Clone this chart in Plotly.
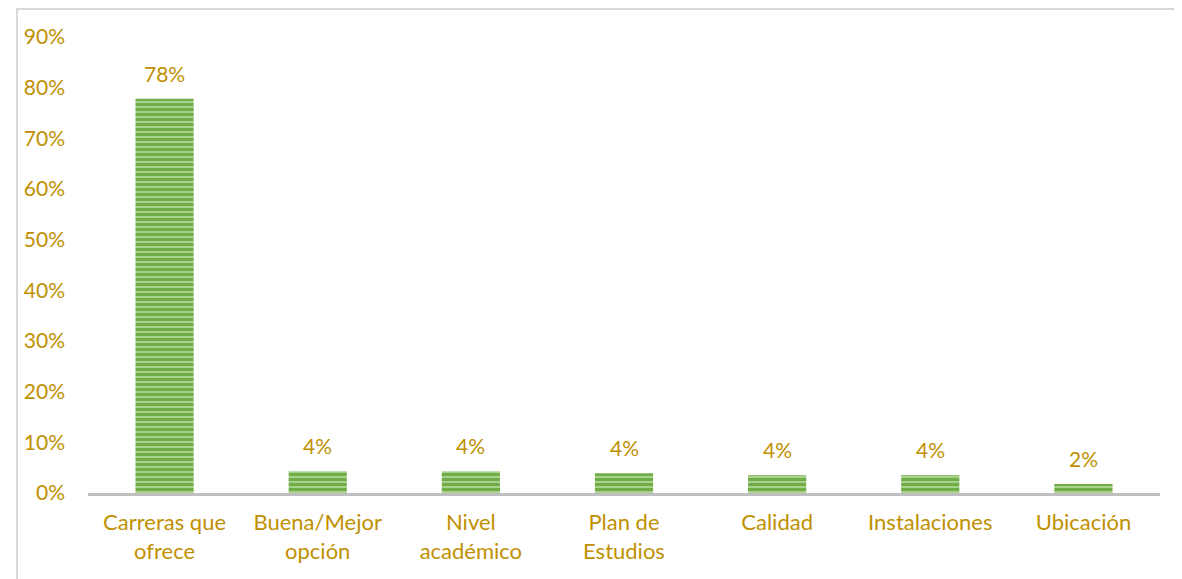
import plotly.graph_objects as go

categories = ["Carreras que<br>ofrece", "Buena/Mejor<br>opción", "Nivel<br>académico",
              "Plan de<br>Estudios", "Calidad", "Instalaciones", "Ubicación"]
values = [77.8, 4.3, 4.3, 3.9, 3.5, 3.5, 1.8]
labels = ["78%", "4%", "4%", "4%", "4%", "4%", "2%"]
y_ticks = [0, 10, 20, 30, 40, 50, 60, 70, 80, 90]

GOLD = "#BF9000"
GREEN = "#70AD47"
FONT = "Lato, Open Sans, sans-serif"

fig = go.Figure(
    go.Bar(
        x=categories,
        y=values,
        width=0.38,
        marker=dict(
            color=GREEN,
            line=dict(width=0),
            pattern=dict(shape="-", fgcolor=GREEN, bgcolor="#A9D18E",
                         size=5, solidity=0.6, fillmode="replace"),
        ),
    )
)

# data labels above bars
for cat, val, lab in zip(categories, values, labels):
    fig.add_annotation(x=cat, y=val, text=lab, showarrow=False,
                       yanchor="bottom", yshift=11,
                       font=dict(size=21, color=GOLD, family=FONT))

# page has 8px body margin, so margins are shifted accordingly
fig.update_layout(
    width=1182,
    height=579,
    margin=dict(l=80, r=30, t=29, b=94),
    paper_bgcolor="white",
    plot_bgcolor="white",
    font=dict(family=FONT, color=GOLD, size=21),
    showlegend=False,
    xaxis=dict(
        showline=True, linecolor="#BFBFBF", linewidth=3,
        ticks="", tickfont=dict(size=22, color=GOLD), ticklabelstandoff=8,
    ),
    yaxis=dict(
        range=[0, 90], tickvals=y_ticks,
        ticktext=[f"{v}%" for v in y_ticks],
        showgrid=False, zeroline=False, showline=False,
        tickfont=dict(size=21, color=GOLD), ticklabelstandoff=22,
    ),
    shapes=[dict(
        type="rect", xref="paper", yref="paper",
        x0=-0.0662, x1=1.03, y0=-0.2, y1=1.0614,
        line=dict(color="#D9D9D9", width=2), fillcolor="rgba(0,0,0,0)",
        layer="below",
    )],
)

fig.write_html("out.html")
